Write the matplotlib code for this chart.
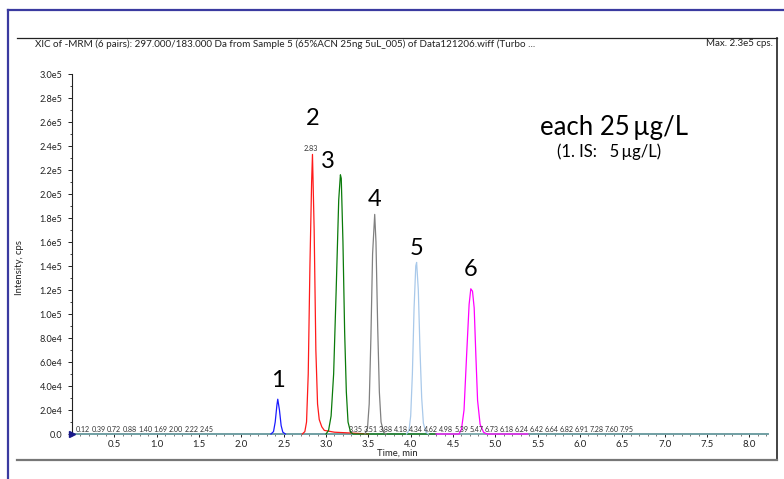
import matplotlib
matplotlib.use("Agg")
import matplotlib.pyplot as plt
from matplotlib.lines import Line2D
from matplotlib.ticker import MultipleLocator, FixedLocator

plt.rcParams['font.family'] = ['Lato', 'DejaVu Sans']

# ---------------- data ----------------
title_text = "XIC of -MRM (6 pairs): 297.000/183.000 Da from Sample 5 (65%ACN 25ng 5uL_005) of Data121206.wiff (Turbo ..."
max_text = "Max. 2.3e5 cps."

t1 = [2.35, 2.38, 2.40, 2.42, 2.43, 2.45, 2.47, 2.49, 2.52]
i1 = [0, 2000, 10000, 24000, 29000, 20000, 7000, 1500, 0]

t2 = [2.72, 2.75, 2.77, 2.79, 2.81, 2.83, 2.84, 2.86, 2.88, 2.90, 2.92, 2.95, 2.98, 3.02, 3.10, 3.30, 3.50]
i2 = [0, 2000, 10000, 50000, 140000, 210000, 233000, 170000, 70000, 25000, 12000, 6000, 3000, 2500, 1500, 800, 0]

t3 = [3.00, 3.03, 3.06, 3.09, 3.12, 3.15, 3.17, 3.18, 3.20, 3.22, 3.24, 3.26, 3.29, 3.32, 3.60, 4.30]
i3 = [0, 3000, 15000, 50000, 120000, 195000, 216000, 213000, 160000, 85000, 35000, 10000, 1500, 0, 0, 0]

t4 = [3.46, 3.49, 3.51, 3.53, 3.55, 3.575, 3.59, 3.61, 3.63, 3.65, 3.68, 3.71]
i4 = [0, 5000, 25000, 80000, 150000, 183000, 160000, 90000, 35000, 10000, 1500, 0]

t5 = [3.95, 3.98, 4.00, 4.02, 4.04, 4.06, 4.07, 4.09, 4.11, 4.13, 4.15, 4.18, 4.21]
i5 = [0, 3000, 15000, 50000, 105000, 140000, 143000, 120000, 70000, 30000, 9000, 1500, 0]

t6 = [4.30, 4.57, 4.60, 4.63, 4.66, 4.69, 4.71, 4.73, 4.75, 4.77, 4.79, 4.82, 4.86, 4.90, 5.40]
i6 = [0, 0, 4000, 20000, 65000, 108000, 121000, 119000, 105000, 65000, 28000, 8000, 1500, 0, 0]

baseline_t = [0.0, 8.22]
baseline_i = [0, 0]

peak_labels = ["1", "2", "3", "4", "5", "6"]
apex_label = "2.83"

rt_labels_a = ["0.12", "0.39", "0.72", "0.88", "1.40", "1.69", "2.00", "2.22", "2.45"]
rt_labels_b = ["3.35", "3.51", "3.88", "4.18", "4.34", "4.62", "4.98", "5.39", "5.47", "6.73",
               "6.18", "6.24", "6.42", "6.64", "6.82", "6.91", "7.28", "7.60", "7.95"]

y_ticks = [0, 20000, 40000, 60000, 80000, 100000, 120000, 140000, 160000, 180000,
           200000, 220000, 240000, 260000, 280000, 300000]
y_tick_labels = ["0.0", "2.0e4", "4.0e4", "6.0e4", "8.0e4", "1.0e5", "1.2e5", "1.4e5", "1.6e5",
                 "1.8e5", "2.0e5", "2.2e5", "2.4e5", "2.6e5", "2.8e5", "3.0e5"]
x_ticks = [0.5, 1.0, 1.5, 2.0, 2.5, 3.0, 3.5, 4.0, 4.5, 5.0, 5.5, 6.0, 6.5, 7.0, 7.5, 8.0]

note_main = "each 25\u2009\u00b5g/L"
note_sub = "(1. IS:   5\u2009\u00b5g/L)"

# ---------------- figure ----------------
W, H = 784, 479
fig = plt.figure(figsize=(W / 100, H / 100), dpi=100)


def fx(px):
    return px / W


def fy(py):
    return 1 - py / H


# frame lines
fig.add_artist(Line2D([fx(8), fx(784)], [fy(10), fy(10)], color='#3a3aa0', lw=1.6))
fig.add_artist(Line2D([fx(8), fx(8)], [fy(10), fy(479)], color='#3a3aa0', lw=1.6))
fig.add_artist(Line2D([fx(17), fx(777)], [fy(38), fy(38)], color='#222222', lw=0.9))
fig.add_artist(Line2D([fx(777), fx(777)], [fy(38), fy(460)], color='#222222', lw=1.2))
fig.add_artist(Line2D([fx(17), fx(777)], [fy(460), fy(460)], color='#777777', lw=1.6))

fig.text(fx(35), fy(44), title_text, fontsize=7.1, ha='left', va='center', color='#222222')
fig.text(fx(773), fy(44), max_text, fontsize=7.0, ha='right', va='center', color='#222222')

ax = fig.add_axes([fx(72), fy(434), fx(768) - fx(72), fy(74) - fy(434)])
ax.set_xlim(0, 8.22)
ax.set_ylim(0, 300000)

ax.plot(baseline_t, baseline_i, color='#6f9fa3', lw=1.2, zorder=2, clip_on=False)
series = [(t1, i1, '#1a1aff'), (t2, i2, '#ff1a1a'), (t3, i3, '#0a7a0a'),
          (t4, i4, '#808080'), (t5, i5, '#a9c9ea'), (t6, i6, '#ff00ff')]
for t, i, c in series:
    ax.plot(t, i, color=c, lw=0.9, zorder=3, clip_on=False)
ax.plot([0.0, 4.30], [0, 0], color='#6f9fa3', lw=1.2, zorder=2.5, clip_on=False)
ax.plot([5.40, 8.22], [0, 0], color='#6f9fa3', lw=1.2, zorder=4, clip_on=False)

# peak number labels (offsets in points from apex, baseline-aligned)
tops = [(t1, i1), (t2, i2), (t3, i3), (t4, i4), (t5, i5), (t6, i6)]
offsets = [(0, 9), (0, 21), (-9, 5), (0, 6), (0, 5), (0, 9)]
for lab, (t, i), off in zip(peak_labels, tops, offsets):
    k = i.index(max(i))
    ax.annotate(lab, (t[k], i[k]), xytext=off, textcoords='offset points',
                ha='center', va='baseline', fontsize=17, color='black', annotation_clip=False)
k2 = i2.index(max(i2))
ax.annotate(apex_label, (t2[k2], i2[k2]), xytext=(-1, 1.5), textcoords='offset points',
            ha='center', va='bottom', fontsize=5.2, color='#333333')

# retention-time labels on baseline
px_per_min = (768 - 72) / 8.22
x0a, stepa = (83 - 72) / px_per_min, 15.5 / px_per_min
x0b, stepb = (356 - 72) / px_per_min, 15.06 / px_per_min
for n, lab in enumerate(rt_labels_a):
    ax.text(x0a + n * stepa, 1200, lab, fontsize=5.1, ha='center', va='bottom', color='#333333')
for n, lab in enumerate(rt_labels_b):
    ax.text(x0b + n * stepb, 1200, lab, fontsize=5.1, ha='center', va='bottom', color='#333333')

# start marker
ax.plot([0.0], [0], marker='>', color='#1a1a8a', ms=4, clip_on=False, zorder=5)

# axes styling
for s in ['top', 'right', 'bottom']:
    ax.spines[s].set_visible(False)
ax.spines['left'].set_color('#222222')
ax.spines['left'].set_linewidth(0.8)

ax.yaxis.set_major_locator(FixedLocator(y_ticks))
ax.set_yticklabels(y_tick_labels)
ax.yaxis.set_minor_locator(MultipleLocator(10000))
ax.xaxis.set_major_locator(FixedLocator(x_ticks))
ax.set_xticklabels([f"{v:.1f}" for v in x_ticks])
ax.xaxis.set_minor_locator(MultipleLocator(0.1))
ax.tick_params(axis='y', which='major', length=3, width=0.7, labelsize=6.6, pad=4, colors='#222222')
ax.tick_params(axis='y', which='minor', length=1.8, width=0.6, colors='#222222')
ax.tick_params(axis='x', which='major', length=2.5, width=0.7, labelsize=6.8, pad=1.5, colors='#222222')
ax.tick_params(axis='x', which='minor', length=1.5, width=0.5, colors='#444444')

fig.text(fx(397), fy(453), "Time, min", fontsize=6.8, ha='center', va='center', color='#222222')
fig.text(fx(20), fy(268), "Intensity, cps", fontsize=6.8, ha='center', va='center',
         rotation=90, color='#222222')

fig.text(fx(614), fy(128), note_main, fontsize=18.5, ha='center', va='center', color='black')
fig.text(fx(609), fy(152), note_sub, fontsize=12, ha='center', va='center', color='black')

fig.savefig("out.png", dpi=100)
